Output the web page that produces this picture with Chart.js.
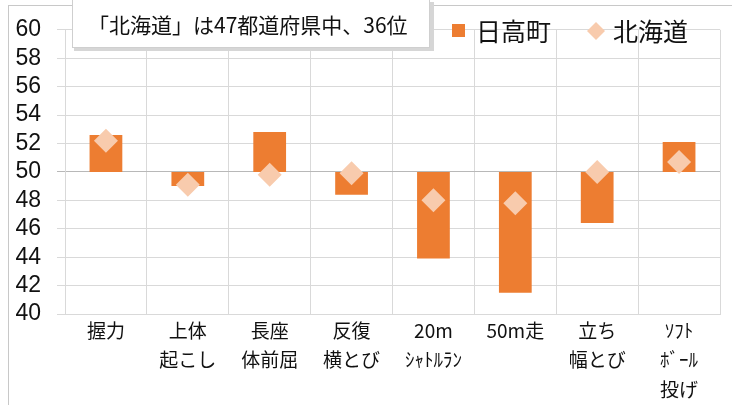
<!DOCTYPE html>
<html>
<head>
<meta charset="utf-8">
<script src="https://cdn.jsdelivr.net/npm/chart.js@4"></script>
<style>
  html, body { margin: 0; padding: 0; background: #fff; }
</style>
</head>
<body>
<canvas id="chart" width="732" height="405"></canvas>
<script>
'use strict';

// ---- data ----
var categories = [
    ['握力'],
    ['上体', '起こし'],
    ['長座', '体前屈'],
    ['反復', '横とび'],
    ['20m', 'ｼｬﾄﾙﾗﾝ'],
    ['50m走'],
    ['立ち', '幅とび'],
    ['ｿﾌﾄ', 'ﾎﾞｰﾙ', '投げ']
];
var hidakaValues   = [52.6, 49.0, 52.8, 48.4, 43.9, 41.5, 46.4, 52.1];
var hokkaidoValues = [52.2, 49.1, 49.8, 49.9, 48.0, 47.8, 50.0, 50.7];
var baseline = 50;
var yMin = 40, yMax = 60, yStep = 2;
var seriesNames = ['日高町', '北海道'];
var noteText = '「北海道」は47都道府県中、36位';

var ORANGE = '#ed7d31';
var PEACH  = '#f8cbad';
var JP = '"Noto Sans CJK JP", "Noto Sans", sans-serif';
var NUM = '"Liberation Sans Narrow", "Liberation Sans", sans-serif';

// ------------------------------------------------------- //
// frame, note box and legend
// ------------------------------------------------------ //
var decorPlugin = {
    id: 'decor',
    beforeDraw: function (chart) {
        var ctx = chart.ctx;
        ctx.save();
        ctx.fillStyle = '#fff';
        ctx.fillRect(0, 0, chart.width, chart.height);
        ctx.strokeStyle = '#c8c8c8';
        ctx.lineWidth = 1;
        ctx.strokeRect(8.5, 5.5, 900, 600);
        ctx.restore();
    },
    afterDraw: function (chart) {
        var ctx = chart.ctx;
        ctx.save();
        // note box
        ctx.fillStyle = '#d6d6d6';
        ctx.fillRect(74, 2, 360, 49);
        ctx.fillStyle = '#fff';
        ctx.fillRect(72, -2, 358, 50);
        ctx.strokeStyle = '#cfcfcf';
        ctx.strokeRect(72.5, -1.5, 357, 49);
        ctx.fillStyle = '#111';
        ctx.font = '21px ' + JP;
        ctx.textBaseline = 'middle';
        ctx.textAlign = 'left';
        ctx.fillText(noteText, 88, 25);

        // legend
        var ds = chart.data.datasets;
        ctx.fillStyle = ds[0].backgroundColor;
        ctx.fillRect(452, 24, 13, 13);
        ctx.fillStyle = '#111';
        ctx.font = '25px ' + JP;
        ctx.fillText(ds[0].label, 476, 31);

        ctx.fillStyle = ds[1].backgroundColor;
        ctx.beginPath();
        ctx.moveTo(596, 22);
        ctx.lineTo(605, 31);
        ctx.lineTo(596, 40);
        ctx.lineTo(587, 31);
        ctx.closePath();
        ctx.fill();
        ctx.fillStyle = '#111';
        ctx.fillText(ds[1].label, 613, 31);
        ctx.restore();
    }
};

var chart = new Chart(document.getElementById('chart'), {
    type: 'bar',
    data: {
        labels: categories,
        datasets: [{
            type: 'bar',
            label: seriesNames[0],
            data: hidakaValues.map(function (v) { return [baseline, v]; }),
            backgroundColor: ORANGE,
            barPercentage: 0.4,
            categoryPercentage: 1,
            order: 2
        }, {
            type: 'line',
            label: seriesNames[1],
            data: hokkaidoValues,
            showLine: false,
            pointStyle: 'rectRot',
            pointRadius: 12,
            pointBorderWidth: 0,
            backgroundColor: PEACH,
            borderColor: PEACH,
            order: 1
        }]
    },
    options: {
        responsive: false,
        animation: false,
        layout: { padding: { top: 20, right: 1, left: 0, bottom: 0 } },
        plugins: {
            legend: { display: false },
            tooltip: { enabled: false }
        },
        scales: {
            x: {
                grid: { color: '#d9d9d9', drawTicks: false, offset: true },
                border: { color: '#d9d9d9' },
                ticks: {
                    color: '#111',
                    font: { family: JP, size: 19, lineHeight: 1.55 },
                    padding: 2,
                    maxRotation: 0,
                    autoSkip: false
                },
                afterFit: function (s) { s.height = 91; }
            },
            y: {
                min: yMin,
                max: yMax,
                grid: {
                    color: function (c) { return c.tick && c.tick.value === baseline ? '#b8b8b8' : '#d9d9d9'; },
                    tickLength: 8
                },
                border: { color: '#d9d9d9' },
                ticks: {
                    stepSize: yStep,
                    autoSkip: false,
                    color: '#111',
                    font: { family: NUM, size: 23 },
                    padding: 16
                },
                afterFit: function (s) { s.width = 65; }
            }
        }
    },
    plugins: [decorPlugin]
});
</script>
</body>
</html>
